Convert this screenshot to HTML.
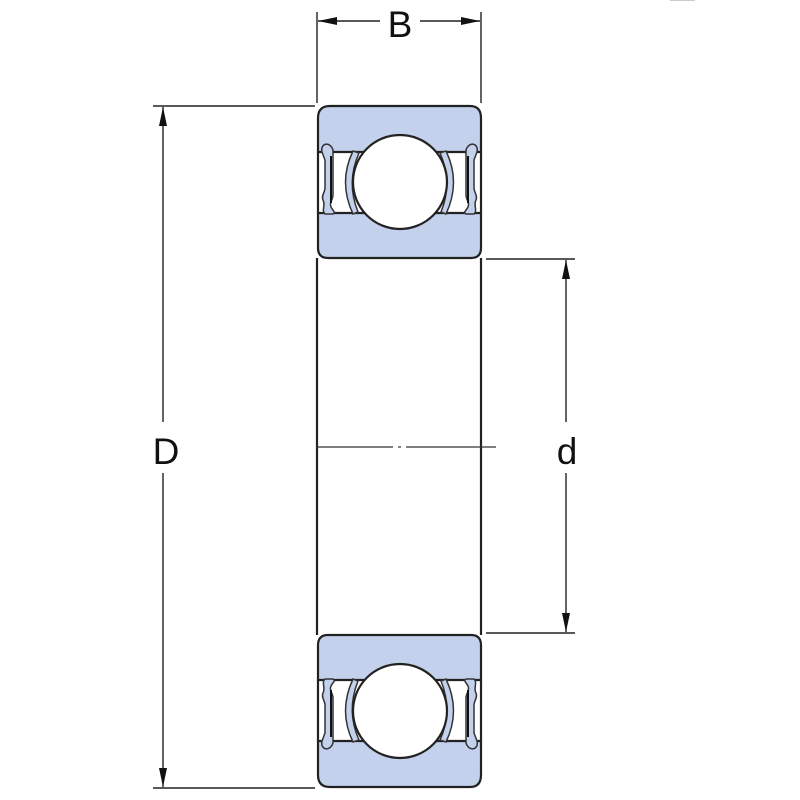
<!DOCTYPE html>
<html><head><style>
html,body{margin:0;padding:0;background:#fff;width:800px;height:800px;overflow:hidden}
text{font-family:"Liberation Sans",sans-serif;fill:#111}
</style></head><body>
<svg width="800" height="800" viewBox="0 0 800 800" xmlns="http://www.w3.org/2000/svg">
<defs>
<g id="half">
  <path d="M318,152 L318,118 Q318,106 330,106 L470,106 Q481,106 481,118 L481,152 Z" fill="#c3d1ec" stroke="#222" stroke-width="2.2"/>
  <path d="M318,213 L481,213 L481,248 Q481,258 471,258 L328,258 Q318,258 318,248 Z" fill="#c3d1ec" stroke="#222" stroke-width="2.2"/>
  <line x1="333" y1="152" x2="466" y2="152" stroke="#222" stroke-width="2"/>
  <path d="M322,152 C320,143 330,141 333,150 L333,195 C333,200 329,202 331,207 C333,211 336,212 333,214 L325,214 C321,210 326,205 323,200 C321,196 325,192 325,188 L325,160 Z" fill="#c3d1ec" stroke="#333" stroke-width="1.5"/>
  <line x1="331" y1="156" x2="331" y2="203" stroke="#111" stroke-width="2"/>
  <path d="M477,152 C479,143 469,141 466,150 L466,195 C466,200 470,202 468,207 C466,211 463,212 466,214 L474,214 C478,210 473,205 476,200 C478,196 474,192 474,188 L474,160 Z" fill="#c3d1ec" stroke="#333" stroke-width="1.5"/>
  <line x1="468" y1="156" x2="468" y2="203" stroke="#111" stroke-width="2"/>
  <path d="M353,151 Q338,182 353,214 L358,212 Q346,182 359,153 Z" fill="#c3d1ec" stroke="#333" stroke-width="1.5"/>
  <path d="M446,151 Q461,182 446,214 L441,212 Q453,182 440,153 Z" fill="#c3d1ec" stroke="#333" stroke-width="1.5"/>
  <circle cx="400" cy="182" r="47" fill="#fff" stroke="#222" stroke-width="2.2"/>
  <line x1="318" y1="152" x2="318" y2="213" stroke="#222" stroke-width="2.2"/>
  <line x1="481" y1="152" x2="481" y2="213" stroke="#222" stroke-width="2.2"/>
</g>
</defs>
<use href="#half"/>
<use href="#half" transform="translate(0,893) scale(1,-1)"/>
<line x1="317" y1="258" x2="317" y2="635" stroke="#222" stroke-width="2.2"/>
<line x1="481" y1="258" x2="481" y2="635" stroke="#222" stroke-width="2.2"/>
<line x1="316" y1="447" x2="393" y2="447" stroke="#333" stroke-width="1.2"/>
<line x1="398" y1="447" x2="401" y2="447" stroke="#333" stroke-width="1.2"/>
<line x1="406" y1="447" x2="496" y2="447" stroke="#333" stroke-width="1.2"/>
<line x1="317" y1="12" x2="317" y2="103" stroke="#222" stroke-width="1.4"/>
<line x1="481" y1="12" x2="481" y2="103" stroke="#222" stroke-width="1.4"/>
<line x1="318" y1="21" x2="380" y2="21" stroke="#222" stroke-width="1.4"/>
<line x1="420" y1="21" x2="480" y2="21" stroke="#222" stroke-width="1.4"/>
<polygon points="318,21 337,17 337,25" fill="#111"/>
<polygon points="480,21 461,17 461,25" fill="#111"/>
<text x="400" y="37" font-size="37" text-anchor="middle">B</text>
<line x1="153" y1="106" x2="315" y2="106" stroke="#222" stroke-width="1.4"/>
<line x1="153" y1="788" x2="315" y2="788" stroke="#222" stroke-width="1.4"/>
<line x1="163" y1="107" x2="163" y2="422" stroke="#222" stroke-width="1.4"/>
<line x1="163" y1="473" x2="163" y2="787" stroke="#222" stroke-width="1.4"/>
<polygon points="163,107 159,126 167,126" fill="#111"/>
<polygon points="163,787 159,768 167,768" fill="#111"/>
<text x="166" y="464" font-size="37" text-anchor="middle">D</text>
<line x1="486" y1="259" x2="575" y2="259" stroke="#222" stroke-width="1.4"/>
<line x1="486" y1="633" x2="575" y2="633" stroke="#222" stroke-width="1.4"/>
<line x1="566" y1="260" x2="566" y2="422" stroke="#222" stroke-width="1.4"/>
<line x1="566" y1="473" x2="566" y2="632" stroke="#222" stroke-width="1.4"/>
<polygon points="566,260 562,279 570,279" fill="#111"/>
<polygon points="566,632 562,613 570,613" fill="#111"/>
<text x="567" y="464" font-size="37" text-anchor="middle">d</text>
<line x1="670" y1="0.5" x2="695" y2="0.5" stroke="#ccc" stroke-width="1"/>
</svg>
</body></html>
